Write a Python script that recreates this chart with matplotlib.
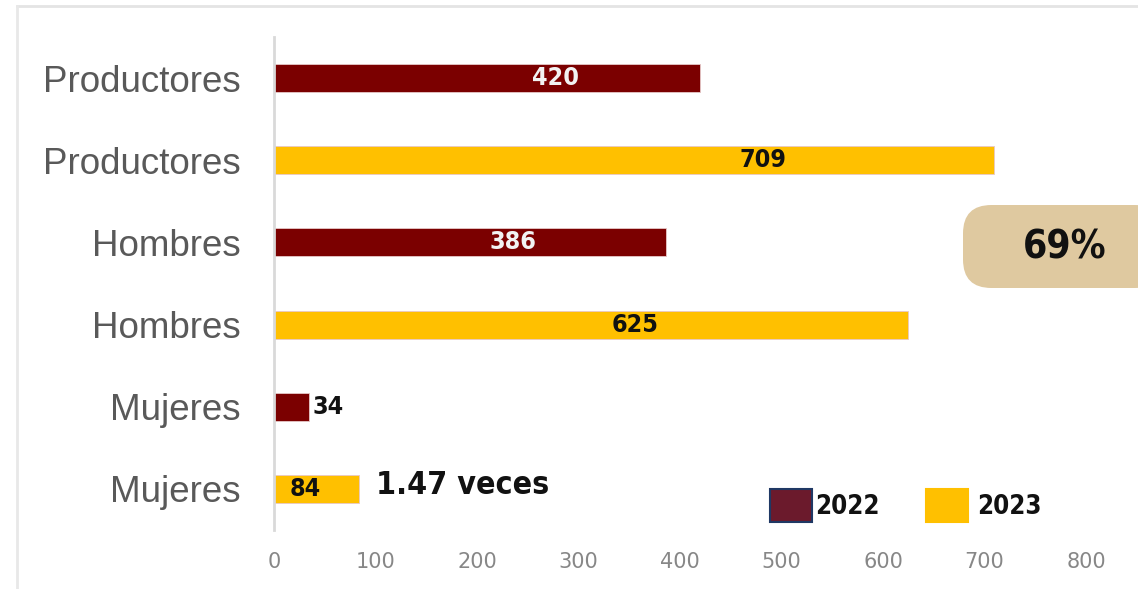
import numpy as np
import matplotlib.pyplot as plt
from matplotlib.patches import FancyBboxPatch, Rectangle
from matplotlib.lines import Line2D

categories = ["Productores", "Productores", "Hombres", "Hombres", "Mujeres", "Mujeres"]
years = ["2022", "2023", "2022", "2023", "2022", "2023"]
values = [420, 709, 386, 625, 34, 84]
label_frac = [0.66, 0.68, 0.61, 0.57, None, 0.37]
xticks = [0, 100, 200, 300, 400, 500, 600, 700, 800]
note_pct = "69%"
note_times = "1.47 veces"

colors = {"2022": "#7b0000", "2023": "#ffc000"}
label_colors = {"2022": "#f2f2f2", "2023": "#111111"}
cond = dict(family="DejaVu Sans", fontstretch="condensed", fontweight="bold")

fig = plt.figure(figsize=(11.38, 5.89), dpi=100)
ax = fig.add_axes([0.2408, 0.1002, 0.7135, 0.8370])

y = np.arange(len(values))
bar_colors = [colors[yr] for yr in years]
ax.barh(y, values, height=0.34, color=bar_colors, edgecolor="#e6c8c8", linewidth=0.6)
ax.set_ylim(len(values) - 0.5, -0.5)
ax.set_xlim(0, 800)

ax.set_yticks(y)
ax.set_yticklabels(categories, family="Liberation Sans", fontsize=26.5, color="#595959")
ax.set_xticks(xticks)
ax.set_xticklabels([str(t) for t in xticks], family="DejaVu Sans", fontsize=15, color="#878787")
ax.tick_params(axis="y", length=0, pad=24)
ax.tick_params(axis="x", length=0, pad=16)
for s in ["top", "right", "bottom"]:
    ax.spines[s].set_visible(False)
ax.spines["left"].set_color("#d9d9d9")
ax.spines["left"].set_linewidth(2)

for i, (v, yr, f) in enumerate(zip(values, years, label_frac)):
    if f is None:
        ax.text(v + 4, i, str(v), ha="left", va="center", fontsize=18,
                color="#111111", **cond)
    else:
        ax.text(v * f, i, str(v), ha="center", va="center", fontsize=18,
                color=label_colors[yr], **cond)

ax.text(100, 5 - 0.04, note_times, ha="left", va="center", fontsize=23,
        color="#111111", **cond)

# rounded note box
box = FancyBboxPatch((963 / 1138, 1 - 288 / 589), 200 / 1138, 83 / 589,
                     boxstyle="round,pad=0,rounding_size=0.025", transform=fig.transFigure,
                     facecolor="#dfc9a0", edgecolor="none", mutation_aspect=1138 / 589)
fig.patches.append(box)
fig.text(1065 / 1138, 1 - 247 / 589, note_pct, ha="center", va="center",
         fontsize=28, color="#111111", **cond)

# legend
leg_items = [("2022", "#6b1a2c", "#1f3864", 770, 815), ("2023", "#ffc000", "#ffc000", 926, 977)]
for name, fc, ec, px, tx in leg_items:
    fig.patches.append(Rectangle((px / 1138, 1 - 522 / 589), 42 / 1138, 33 / 589,
                                 transform=fig.transFigure, facecolor=fc,
                                 edgecolor=ec, linewidth=1.5))
    fig.text(tx / 1138, 1 - 507 / 589, name, ha="left", va="center",
             fontsize=18.5, color="#111111", **cond)

# outer frame lines
fig.add_artist(Line2D([17 / 1138, 1], [1 - 6 / 589, 1 - 6 / 589], transform=fig.transFigure,
                      color="#e4e4e4", linewidth=2))
fig.add_artist(Line2D([17 / 1138, 17 / 1138], [0, 1 - 6 / 589], transform=fig.transFigure,
                      color="#e8e8e8", linewidth=2))

fig.savefig("out.png", dpi=100)
